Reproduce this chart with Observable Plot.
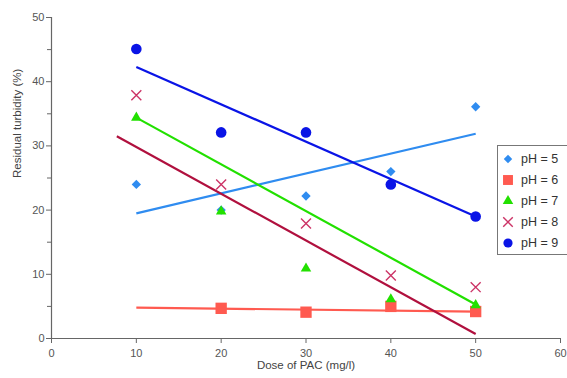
<!DOCTYPE html>
<html>
<head>
<meta charset="utf-8">
<script src="https://cdn.jsdelivr.net/npm/d3@7"></script>
<script src="https://cdn.jsdelivr.net/npm/@observablehq/plot@0.6"></script>
<style>
  html, body { margin: 0; padding: 0; background: #fff; }
  #wrap { position: relative; width: 567px; height: 378px; overflow: hidden; font-family: "Liberation Sans", Arial, sans-serif; }
  #legend { position: absolute; left: 497px; top: 145px; width: 80px; height: 110px; border: 1px solid #777; background: #fff; box-sizing: border-box; }
  .item { position: absolute; left: 0; height: 18px; display: flex; align-items: center; font-size: 12.5px; color: #333; }
  .item svg { margin-left: 3px; margin-right: 6px; }
</style>
</head>
<body>
<div id="wrap"><div id="chart"></div><div id="legend"></div></div>
<script>
// ---- data ----
const doses = [10, 20, 30, 40, 50];
const seriesNames = ["pH = 5", "pH = 6", "pH = 7", "pH = 8", "pH = 9"];
const ph5 = [24, 20, 22.2, 26, 36.1];
const ph6 = [null, 4.7, 4.1, 5.0, 4.2];
const ph7 = [34.4, 19.8, 10.9, 6.1, 5.2];
const ph8 = [37.9, 24, 17.9, 9.8, 8.0];
const ph9 = [45.1, 32.1, 32.1, 24.0, 19.0];
// fitted trend lines (start/end)
const trendX0 = [10, 10, 10, 7.7, 10];
const trendY0 = [19.5, 4.8, 34.4, 31.5, 42.3];
const trendX1 = [50, 50, 50, 50, 50];
const trendY1 = [31.9, 4.2, 5.3, 0.7, 19.0];
const xTicks = [0, 10, 20, 30, 40, 50, 60];
const yTicks = [0, 10, 20, 30, 40, 50];
const yMinorTicks = [5, 15, 25, 35, 45];

// ---- styles ----
const markerColors = ["#2f8cf0", "#ff5a50", "#22e000", "#cc3366", "#0a14e6"];
const lineColors = ["#2f8cf0", "#ff5a50", "#22e000", "#b0103e", "#0a14e6"];
const symbols = ["diamond2", "square", "triangle", "times", "circle"];
const radii = [4.2, 6.4, 3.9, 4.6, 5.3];

const allValues = [ph5, ph6, ph7, ph8, ph9];
const points = [];
allValues.forEach((vals, s) => vals.forEach((v, i) => { if (v != null) points.push({x: doses[i], y: v, s}); }));
const trends = seriesNames.map((n, s) => ({s, x0: trendX0[s], y0: trendY0[s], x1: trendX1[s], y1: trendY1[s]}));

const axisGray = "#666";
const marks = [
  Plot.axisY(yTicks, {tickSize: 5, tickPadding: 2, fontSize: 11, color: "#555", stroke: axisGray, label: null}),
  Plot.axisY(yMinorTicks, {tickSize: 4, text: null, stroke: axisGray, label: null}),
  Plot.axisX(xTicks, {tickSize: 5, tickPadding: 6, fontSize: 11, color: "#555", stroke: axisGray, label: null}),
  Plot.ruleX([0], {y1: 0, y2: 50, stroke: axisGray, strokeWidth: 1.2}),
  Plot.ruleY([0], {x1: 0, x2: 60, stroke: axisGray, strokeWidth: 1.2}),
  Plot.text(["Residual turbidity (%)"], {frameAnchor: "left", dx: -34, rotate: -90, fontSize: 11.5, fill: "#444"}),
  Plot.text(["Dose of PAC (mg/l)"], {frameAnchor: "bottom", dy: 30, fontSize: 11.5, fill: "#444"}),
];
trends.forEach(t => {
  marks.push(Plot.link([t], {x1: "x0", y1: "y0", x2: "x1", y2: "y1", stroke: lineColors[t.s], strokeWidth: 2.2}));
});
seriesNames.forEach((n, s) => {
  const pts = points.filter(p => p.s === s);
  if (symbols[s] === "times") {
    marks.push(Plot.dot(pts, {x: "x", y: "y", symbol: "times", r: radii[s], stroke: markerColors[s], strokeWidth: 1.4}));
  } else {
    marks.push(Plot.dot(pts, {x: "x", y: "y", symbol: symbols[s], r: radii[s], fill: markerColors[s], stroke: "none"}));
  }
});

const chart = Plot.plot({
  width: 567, height: 378,
  marginLeft: 51, marginRight: 7, marginTop: 17, marginBottom: 40,
  style: {fontFamily: "Liberation Sans, Arial, sans-serif", background: "#fff"},
  x: {domain: [0, 60]},
  y: {domain: [0, 50]},
  marks
});
document.getElementById("chart").appendChild(chart);

// legend
const legend = document.getElementById("legend");
const symGen = {diamond2: d3.symbolDiamond2, square: d3.symbolSquare, triangle: d3.symbolTriangle, times: d3.symbolTimes, circle: d3.symbolCircle};
const legendRadii = [3.8, 5.6, 3.9, 4.4, 4.6];
seriesNames.forEach((n, s) => {
  const item = document.createElement("div");
  item.className = "item";
  item.style.top = (4 + s * 21) + "px";
  const size = Math.PI * legendRadii[s] * legendRadii[s];
  const path = d3.symbol(symGen[symbols[s]], size)();
  const isStroke = symbols[s] === "times";
  item.innerHTML = `<svg width="14" height="14" viewBox="-7 -7 14 14"><path d="${path}" ${isStroke ? `fill="none" stroke="${markerColors[s]}" stroke-width="1.4"` : `fill="${markerColors[s]}"`}/></svg><span>${n}</span>`;
  legend.appendChild(item);
});
</script>
</body>
</html>
